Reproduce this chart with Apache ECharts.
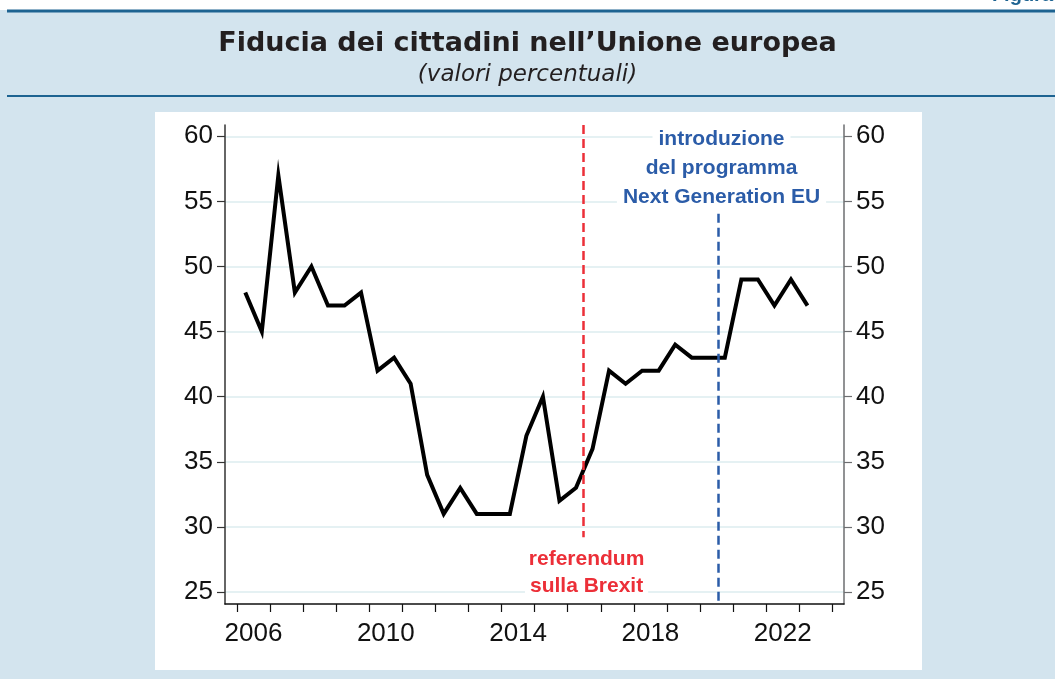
<!DOCTYPE html>
<html>
<head>
<meta charset="utf-8">
<script src="https://cdn.jsdelivr.net/npm/echarts@6/dist/echarts.min.js"></script>
<style>
  html, body { margin: 0; padding: 0; background: #d3e4ee; }
  #chart { width: 1055px; height: 679px; }
</style>
</head>
<body>
<div id="chart"></div>
<script>
// rilevazioni semestrali (primavera / autunno)
const waves = [
  2006.25, 2006.75, 2007.25, 2007.75, 2008.25, 2008.75, 2009.25, 2009.75,
  2010.25, 2010.75, 2011.25, 2011.75, 2012.25, 2012.75, 2013.25, 2013.75,
  2014.25, 2014.75, 2015.25, 2015.75, 2016.25, 2016.75, 2017.25, 2017.75,
  2018.25, 2018.75, 2019.25, 2019.75, 2020.25, 2020.75, 2021.25, 2021.75,
  2022.25, 2022.75, 2023.25
];
// fiducia nell'UE, valori percentuali
const trust = [
  48, 45, 57, 48, 50, 47, 47, 48,
  42, 43, 41, 34, 31, 33, 31, 31,
  31, 37, 40, 32, 33, 36, 42, 41,
  42, 42, 44, 43, 43, 43, 49, 49,
  47, 49, 47
];
const yTicks = [25, 30, 35, 40, 45, 50, 55, 60];
const xTickYears = [2006, 2007, 2008, 2009, 2010, 2011, 2012, 2013, 2014, 2015,
  2016, 2017, 2018, 2019, 2020, 2021, 2022, 2023, 2024];
const xLabelYears = [2006, 2010, 2014, 2018, 2022];

// eventi
const brexitDate = 2016.48;
const ngeuDate = 2020.55;
const brexitLabel = ['referendum', 'sulla Brexit'];
const ngeuLabel = ['introduzione', 'del programma', 'Next Generation EU'];

const yMin = 24.08, yMax = 60.87;
const xMin = 2005.637, xMax = 2024.354;

const red = '#ec2f38';
const blue = '#2b5ca8';
const frame = '#1d6391';

const tickFont = { fontFamily: 'Liberation Sans', fontSize: 26, color: '#111' };

let options = {
  backgroundColor: '#d3e4ee',
  animation: false,
  title: [
    {
      text: 'Fiducia dei cittadini nell\u2019Unione europea',
      left: 'center', top: 25,
      textStyle: { fontFamily: 'DejaVu Sans', fontWeight: 'bold', fontSize: 27, color: '#231f20' }
    },
    {
      text: '(valori percentuali)',
      left: 'center', top: 59,
      textStyle: { fontFamily: 'DejaVu Sans', fontStyle: 'italic', fontWeight: 'normal', fontSize: 23, color: '#231f20' }
    }
  ],
  graphic: [
    { type: 'rect', z: -1, shape: { x: 0, y: 0, width: 1055, height: 10 }, style: { fill: '#fff' } },
    { type: 'text', z: -1, style: { x: 1053, y: 5, text: 'Figura', align: 'right', verticalAlign: 'bottom',
        fill: frame, font: 'bold 20px "Liberation Sans"' } },
    { type: 'line', z: -1, shape: { x1: 7, y1: 11, x2: 1055, y2: 11 }, style: { stroke: frame, lineWidth: 3 } },
    { type: 'line', z: -1, shape: { x1: 7, y1: 96, x2: 1055, y2: 96 }, style: { stroke: frame, lineWidth: 2 } },
    { type: 'rect', z: -1, shape: { x: 155, y: 112, width: 767, height: 558 }, style: { fill: '#fff' } }
  ],
  grid: { left: 225, right: 211, top: 125, bottom: 75 },
  xAxis: {
    type: 'value',
    min: xMin, max: xMax,
    axisLine: { show: true, lineStyle: { color: '#111', width: 1.5 } },
    axisTick: { show: true, length: 8, lineStyle: { color: '#111', width: 1.2 }, customValues: xTickYears },
    axisLabel: {
      ...tickFont, margin: 17,
      customValues: xLabelYears.map(y => y + 0.5),
      formatter: v => String(Math.floor(v))
    },
    splitLine: { show: false }
  },
  yAxis: [
    {
      type: 'value', position: 'left',
      min: yMin, max: yMax,
      axisLine: { show: true, lineStyle: { color: '#333', width: 1.5 } },
      axisTick: { show: true, length: 8, lineStyle: { color: '#333', width: 1.2 }, customValues: yTicks },
      axisLabel: { ...tickFont, margin: 12, customValues: yTicks },
      splitLine: { show: true, lineStyle: { color: '#dcecef', width: 1.5 } }
    },
    {
      type: 'value', position: 'right',
      min: yMin, max: yMax,
      axisLine: { show: true, lineStyle: { color: '#6d6e71', width: 1.5 } },
      axisTick: { show: true, length: 8, lineStyle: { color: '#6d6e71', width: 1.2 }, customValues: yTicks },
      axisLabel: { ...tickFont, margin: 12, customValues: yTicks },
      splitLine: { show: false }
    }
  ],
  series: [
    {
      type: 'line',
      data: waves.map((w, i) => [w, trust[i]]),
      showSymbol: false,
      lineStyle: { color: '#000', width: 4, join: 'miter' },
      z: 3,
      markLine: {
        silent: true,
        symbol: 'none',
        label: { show: false },
        data: [
          [
            { coord: [brexitDate, yMax], lineStyle: { color: red, width: 2.5, type: [9, 5] } },
            { coord: [brexitDate, 29.2] }
          ],
          [
            { coord: [ngeuDate, 54.05], lineStyle: { color: blue, width: 2.5, type: [9, 5] } },
            { coord: [ngeuDate, yMin] }
          ]
        ]
      },
      markPoint: {
        silent: true,
        symbol: 'rect',
        symbolSize: 1,
        itemStyle: { color: 'rgba(0,0,0,0)' },
        data: [
          {
            coord: [2016.57, 26.5],
            label: {
              show: true, position: 'inside',
              formatter: brexitLabel.map(s => '{r|' + s + '}').join('\n'),
              rich: {
                r: { fontFamily: 'Liberation Sans', fontWeight: 'bold', fontSize: 21, color: red,
                  lineHeight: 27, backgroundColor: '#fff', padding: [0, 5] }
              }
            }
          },
          {
            coord: [2020.65, 57.55],
            label: {
              show: true, position: 'inside',
              formatter: ngeuLabel.map(s => '{b|' + s + '}').join('\n'),
              rich: {
                b: { fontFamily: 'Liberation Sans', fontWeight: 'bold', fontSize: 21, color: blue,
                  lineHeight: 29, backgroundColor: '#fff', padding: [0, 6] }
              }
            }
          }
        ]
      }
    }
  ]
};

var myChart = echarts.init(document.getElementById('chart'), null, { renderer: 'canvas' });
myChart.setOption(options);
</script>
</body>
</html>
